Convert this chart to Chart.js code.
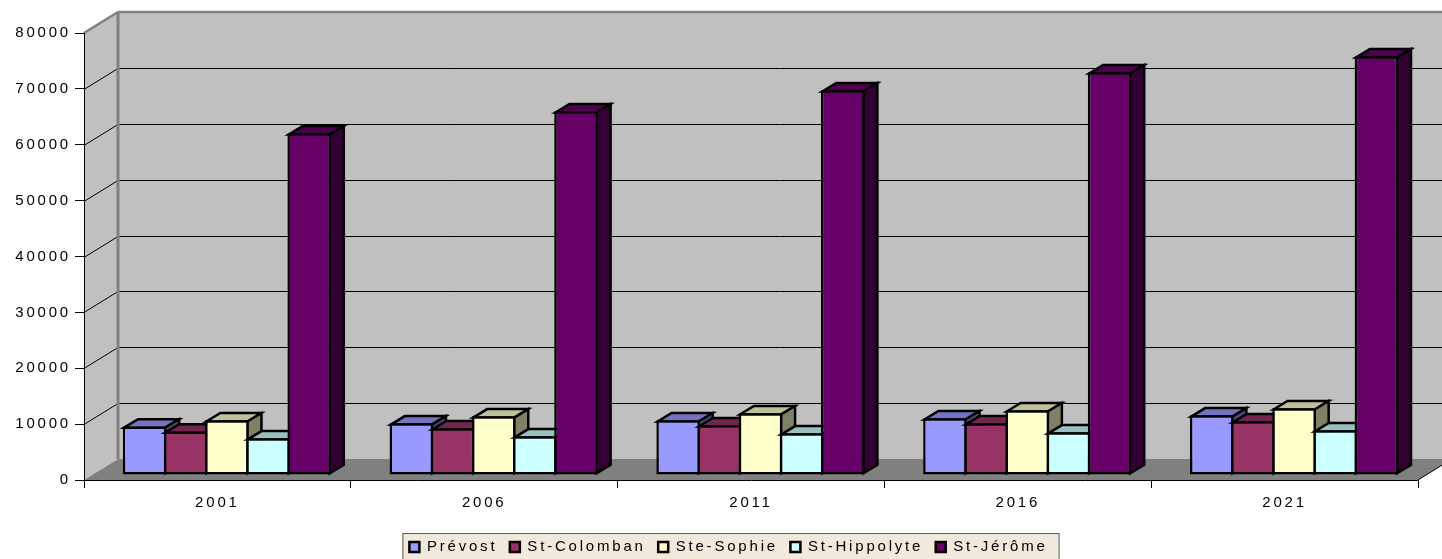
<!DOCTYPE html>
<html>
<head>
<meta charset="utf-8">
<style>
    html, body { margin: 0; padding: 0; background: #fff; overflow: hidden; }
    canvas { display: block; }
</style>
<script src="https://cdn.jsdelivr.net/npm/chart.js@4/dist/chart.umd.min.js"></script>
</head>
<body>
<canvas id="populationChart" width="1442" height="559"></canvas>
<script>
const years = ['2001', '2006', '2011', '2016', '2021'];
const seriesNames = ['Prévost', 'St-Colomban', 'Ste-Sophie', 'St-Hippolyte', 'St-Jérôme'];
const prevost = [8700, 9250, 9800, 10150, 10680];
const stColomban = [7800, 8350, 8900, 9250, 9600];
const steSophie = [9800, 10500, 11050, 11580, 11950];
const stHippolyte = [6560, 6920, 7460, 7640, 8000];
const stJerome = [61150, 65100, 68850, 72080, 74930];
const yTicks = [0, 10000, 20000, 30000, 40000, 50000, 60000, 70000, 80000];

const faces = [
    { front: '#9999ff', top: '#7373bf', side: '#4d4d80' },
    { front: '#993366', top: '#73264d', side: '#4d1a33' },
    { front: '#ffffcc', top: '#bfbf99', side: '#808066' },
    { front: '#ccffff', top: '#99bfbf', side: '#668080' },
    { front: '#660066', top: '#4d004d', side: '#330033' }
];

// depth of the box (floor + walls) and of a single bar, in pixels
const wallDx = 34, wallDy = 21;
const barDx = 14, barDy = 8.5;
const barShiftX = 9.5, barShiftY = -5;
const barLine = 2.5;
const leftPad = 39;

function poly(ctx, pts, fill, stroke, width) {
    ctx.beginPath();
    pts.forEach((p, i) => (i ? ctx.lineTo(p[0], p[1]) : ctx.moveTo(p[0], p[1])));
    ctx.closePath();
    if (fill) {
        ctx.fillStyle = fill;
        ctx.fill();
    }
    if (stroke) {
        ctx.strokeStyle = stroke;
        ctx.lineWidth = width;
        ctx.stroke();
    }
}

function line(ctx, x1, y1, x2, y2, color, width) {
    ctx.beginPath();
    ctx.moveTo(x1, y1);
    ctx.lineTo(x2, y2);
    ctx.strokeStyle = color;
    ctx.lineWidth = width;
    ctx.stroke();
}

const spacing = {
    id: 'spacing',
    beforeLayout(chart) { chart.ctx.letterSpacing = '2.8px'; },
    beforeDraw(chart) { chart.ctx.letterSpacing = '2.8px'; }
};

// left padding only serves to centre the legend, the y axis still owns the whole margin
const placement = {
    id: 'placement',
    afterLayout(chart) {
        const y = chart.scales.y;
        y.left = 0;
        y.width = y.right;
        chart.legend.top = 527;
        chart.legend.bottom = 559;
    }
};

const room = {
    id: 'room',
    beforeDraw(chart) {
        const ctx = chart.ctx;
        const { left, right, top, bottom } = chart.chartArea;
        const y = chart.scales.y;
        ctx.save();
        ctx.letterSpacing = '0px';

        poly(ctx, [[left + wallDx, top - wallDy], [right + wallDx, top - wallDy], [right + wallDx, bottom - wallDy], [left + wallDx, bottom - wallDy]], '#c0c0c0');
        poly(ctx, [[left, top], [left + wallDx, top - wallDy], [left + wallDx, bottom - wallDy], [left, bottom]], '#c0c0c0');
        poly(ctx, [[left, bottom], [left + wallDx, bottom - wallDy], [right + wallDx, bottom - wallDy], [right, bottom]], '#808080');

        yTicks.forEach((v) => {
            const py = Math.round(y.getPixelForValue(v)) + 0.5;
            if (v > 0 && v < 80000) {
                line(ctx, left, py, left + wallDx, py - wallDy, '#000', 1);
                line(ctx, left + wallDx, py - wallDy, right + wallDx, py - wallDy, '#000', 1);
            }
        });
        line(ctx, right, bottom, right + wallDx, bottom - wallDy, '#000', 1);

        line(ctx, left + wallDx, top - wallDy, right + wallDx, top - wallDy, '#808080', 2.5);
        line(ctx, left + wallDx, top - wallDy, left + wallDx, bottom - wallDy, '#808080', 3);
        line(ctx, left, top, left + wallDx, top - wallDy, '#808080', 2.5);

        // legend frame
        const boxes = chart.legend.legendHitBoxes;
        const last = boxes[boxes.length - 1];
        const fx = boxes[0].left - 7, fy = 533;
        const fw = last.left + last.width + 11 - fx;
        ctx.fillStyle = '#f1e9db';
        ctx.fillRect(fx, fy, fw, 40);
        ctx.strokeStyle = '#5a5a5a';
        ctx.lineWidth = 1;
        ctx.strokeRect(fx + 0.5, fy + 0.5, fw, 40);
        ctx.restore();
    }
};

const bars3d = {
    id: 'bars3d',
    // painted left to right by hand, so later bars cover the sides of earlier ones
    beforeDatasetDraw() { return false; },
    beforeDatasetsDraw(chart) {
        const ctx = chart.ctx;
        chart.data.datasets.forEach((ds, i) => {
            const meta = chart.getDatasetMeta(i);
            ctx.save();
            ctx.translate(barShiftX, barShiftY);
            meta.data.forEach((bar) => {
                const x1 = bar.x - bar.width / 2, x2 = bar.x + bar.width / 2;
                const inset = barLine / 2;
                poly(ctx, [[x1 + inset, bar.y + inset], [x1 + inset + barDx, bar.y + inset - barDy], [x2 - inset + barDx, bar.y + inset - barDy], [x2 - inset, bar.y + inset]], faces[i].top, '#000', barLine);
                poly(ctx, [[x2 - inset, bar.y + inset], [x2 - inset + barDx, bar.y + inset - barDy], [x2 - inset + barDx, bar.base - inset - barDy], [x2 - inset, bar.base - inset]], faces[i].side, '#000', barLine);
            });
            meta.controller.draw();
            ctx.restore();
        });
    }
};

const tickFont = { family: "'Liberation Sans', Arial, sans-serif", size: 15 };

function makeDataset(index, values) {
    return {
        label: seriesNames[index],
        data: values,
        backgroundColor: faces[index].front,
        borderColor: '#000',
        borderWidth: barLine,
        borderSkipped: false
    };
}

new Chart(document.getElementById('populationChart').getContext('2d'), {
    type: 'bar',
    data: {
        labels: years,
        datasets: [
            makeDataset(0, prevost),
            makeDataset(1, stColomban),
            makeDataset(2, steSophie),
            makeDataset(3, stHippolyte),
            makeDataset(4, stJerome)
        ]
    },
    options: {
        responsive: false,
        animation: false,
        categoryPercentage: 0.7715,
        // bars overlap by one border width so neighbours share a single line
        barPercentage: 1.06,
        layout: { autoPadding: false, padding: { left: leftPad, right: 24, top: 33, bottom: 0 } },
        plugins: {
            tooltip: { enabled: false },
            legend: {
                position: 'bottom',
                labels: {
                    font: tickFont,
                    color: '#000',
                    boxWidth: 10,
                    boxHeight: 10,
                    padding: 12.5
                }
            }
        },
        scales: {
            x: {
                grid: { drawOnChartArea: false, drawTicks: true, tickLength: 8, color: '#000' },
                border: { color: '#000', width: 1 },
                ticks: { font: tickFont, color: '#000', padding: 6, maxRotation: 0 },
                afterFit(scale) { scale.height = 559 - 480 - scale.chart.legend.height; }
            },
            y: {
                min: 0,
                max: 80000,
                grid: { drawOnChartArea: false, drawTicks: true, tickLength: 9, color: '#000' },
                border: { color: '#000', width: 1 },
                ticks: {
                    font: tickFont,
                    color: '#000',
                    stepSize: 10000,
                    padding: 4,
                    callback: function (value) {
                        return String(value);
                    }
                },
                afterFit(scale) { scale.width = 84 - leftPad; }
            }
        }
    },
    plugins: [spacing, placement, room, bars3d]
});
</script>
</body>
</html>
